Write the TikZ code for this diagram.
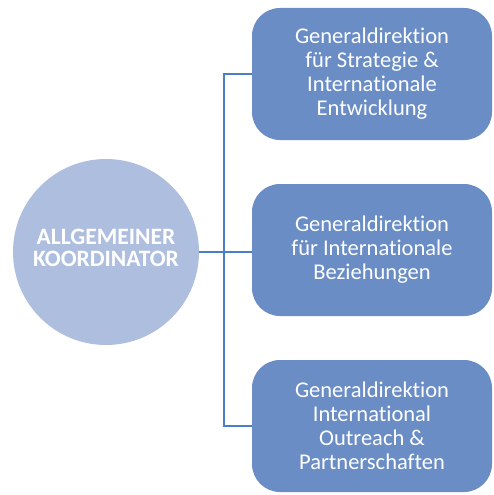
\documentclass[tikz,border=0pt]{standalone}
\usepackage{fontspec}
\setmainfont{Carlito}[Ligatures={NoCommon,NoRare}]
\usetikzlibrary{positioning}
\definecolor{boxblue}{HTML}{6A8DC5}
\definecolor{circblue}{HTML}{AEBEDF}
\definecolor{lineblue}{HTML}{4A7EC7}
\begin{document}
\begin{tikzpicture}[x=1pt, y=-1pt,
        dir node/.style={rectangle, rounded corners=28pt, fill=boxblue, minimum width=240pt, minimum height=132pt, text=white, align=center, font=\fontsize{22.5}{24}\selectfont},
        main node/.style={circle, fill=circblue, minimum size=186pt, text=white, align=center, font=\fontsize{23.5}{23}\selectfont\bfseries},
        link/.style={draw=lineblue, line width=1.2pt}]
    \useasboundingbox (0,0) rectangle (493,495);
    \node[main node] (koord) at (106,252) {\raisebox{18pt}{\begin{tabular}{@{}c@{}}ALLGEMEINER\\[-1pt]KOORDINATOR\end{tabular}}};
    \node[dir node] (dir1) at (372,74) {Generaldirektion\\für Strategie \&\\Internationale\\Entwicklung};
    \node[dir node] (dir2) at (372,250) {Generaldirektion\\für Internationale\\Beziehungen};
    \node[dir node] (dir3) at (372,426) {Generaldirektion\\International\\Outreach \&\\Partnerschaften};
    \coordinate (spine) at (224,252);
    \draw[link] (koord.east) -- (spine -| dir2.west);
    \draw[link] (dir1.west) -| (spine) |- (dir3.west);
\end{tikzpicture}
\end{document}
